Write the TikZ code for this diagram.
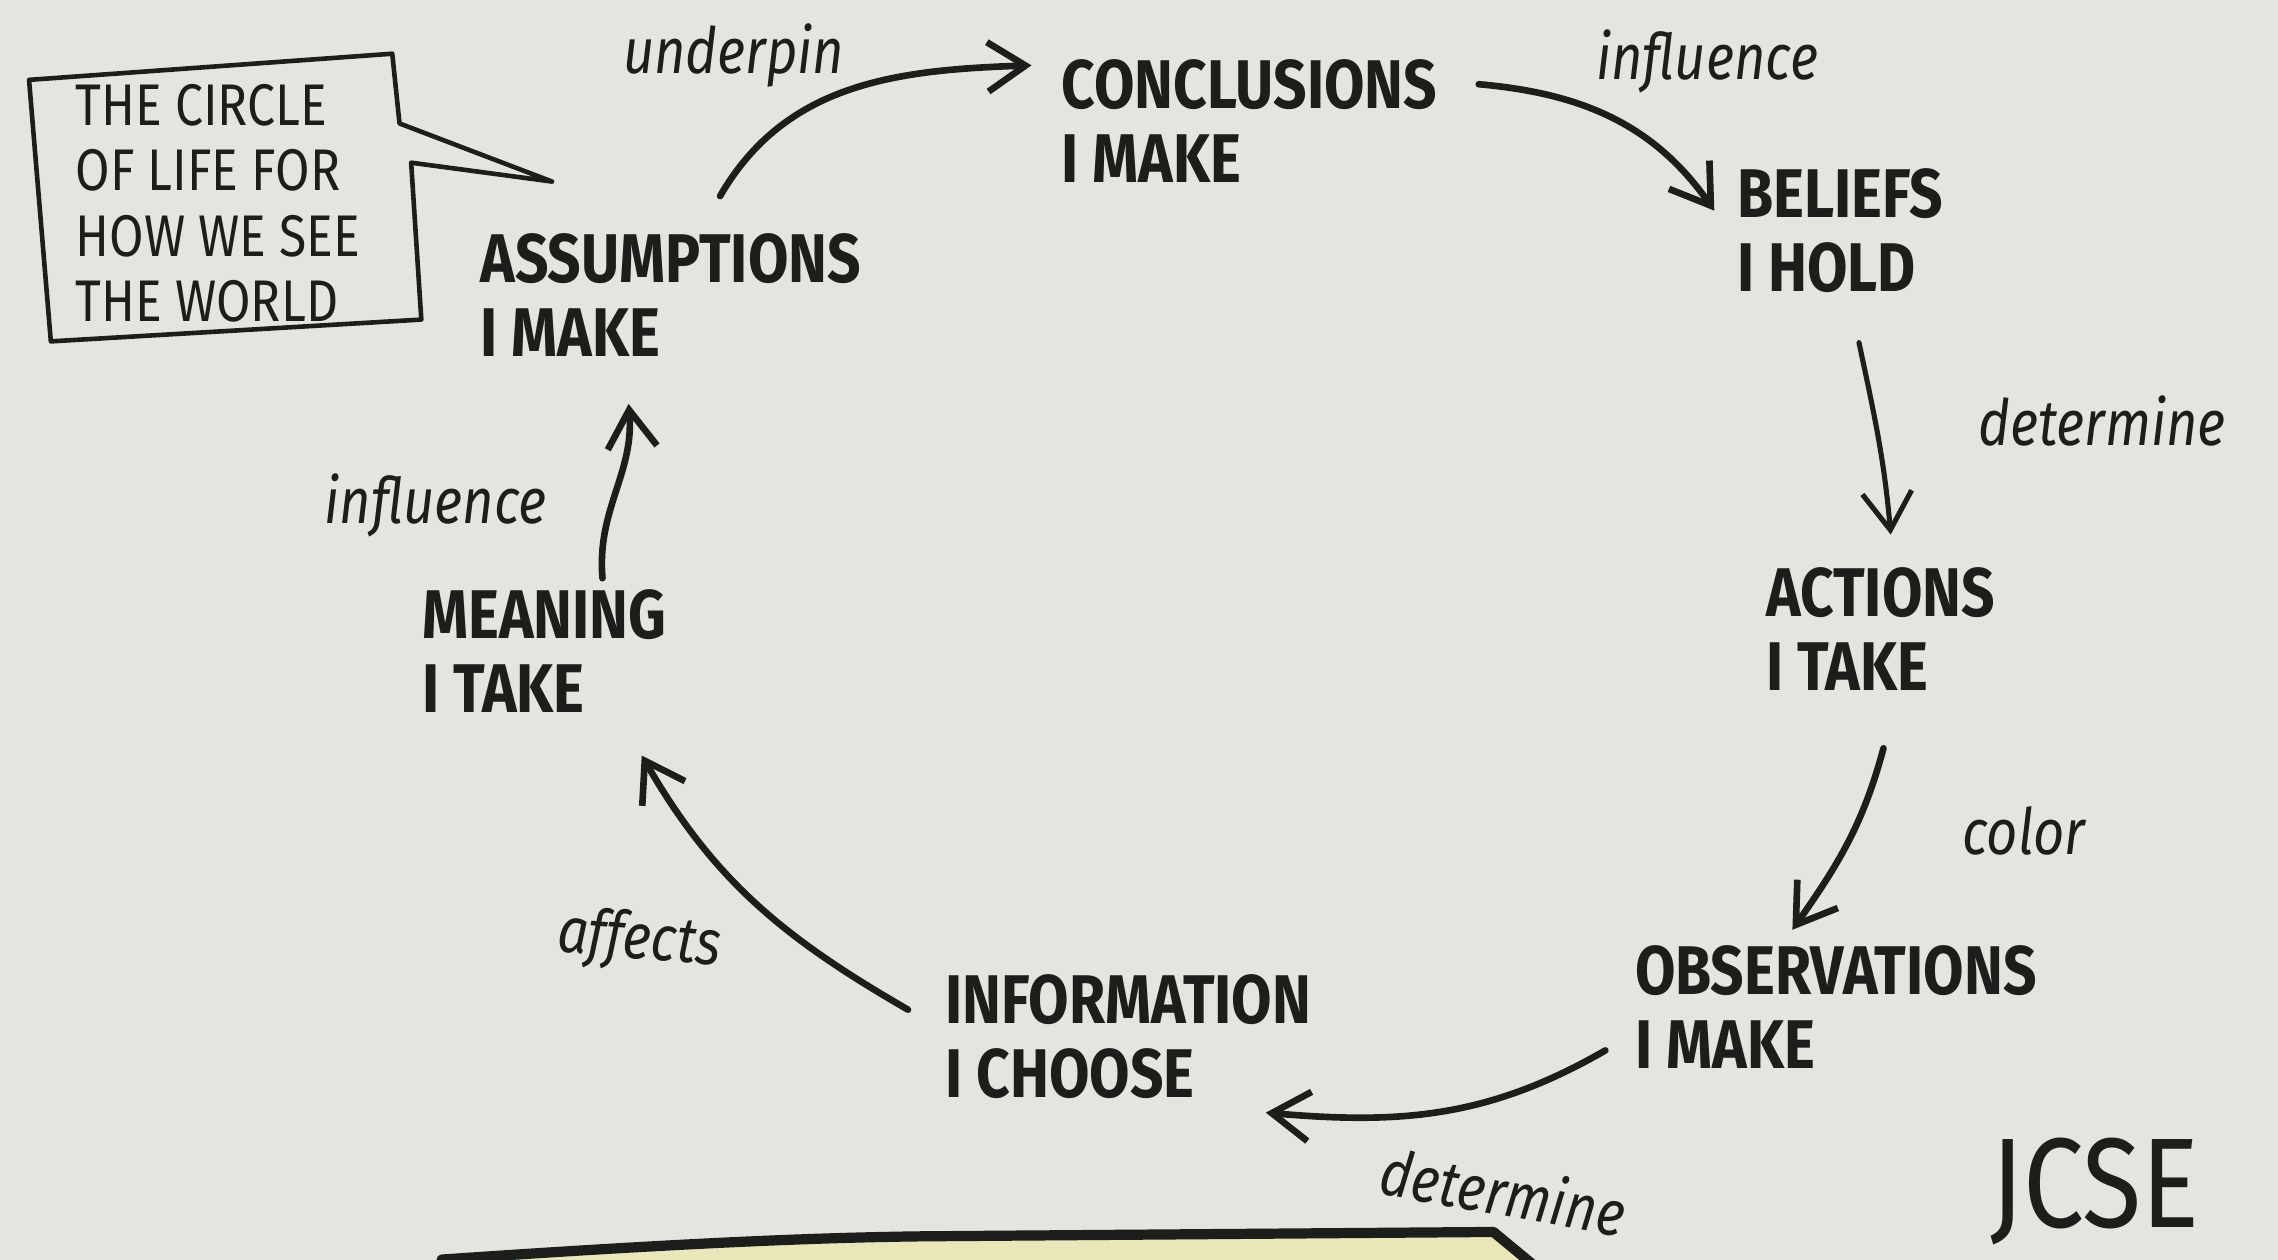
\documentclass[tikz,border=0pt]{standalone}
\usepackage{fontspec}
\setmainfont{Fira Sans}
\newfontfamily\hand[FakeStretch=0.85]{Fira Sans}
\usepackage{tikz}
\usetikzlibrary{arrows.meta}

\definecolor{paper}{RGB}{228,229,223}
\definecolor{ink}{RGB}{28,30,28}
\definecolor{pad}{RGB}{233,230,186}

\tikzset{
  stage/.style={anchor=north west, inner sep=0pt, align=left, text=ink,
    font=\hand\bfseries\fontsize{13.5}{14.5}\selectfont},
  verb/.style={inner sep=0pt, text=ink,
    font=\hand\itshape\fontsize{12.5}{14}\selectfont},
  link/.style={->, draw=ink, line width=1.3pt, line cap=round},
}

\begin{document}
\begin{tikzpicture}[>={Straight Barb[length=2.6mm,width=3.4mm]}]
        % Paper and frame
        \fill[paper] (0,0) rectangle (15.68,8.67);
        \useasboundingbox (0,0) rectangle (15.68,8.67);

        % Stages of the circle
        \node[stage] (concl) at (7.30,8.27) {CONCLUSIONS\\I MAKE};
        \node[stage] (beliefs) at (11.95,7.52) {BELIEFS\\ I HOLD};
        \node[stage] (actions) at (12.15,4.77) {ACTIONS\\ I TAKE};
        \node[stage] (observ) at (11.25,2.17) {OBSERVATIONS\\ I MAKE};
        \node[stage] (info) at (6.50,1.97) {INFORMATION\\I CHOOSE};
        \node[stage] (meaning) at (2.90,4.62) {MEANING\\ I TAKE};
        \node[stage] (assump) at (3.30,7.07) {ASSUMPTIONS\\ I MAKE};

        % Connectors between the stages
        \draw[link] ([xshift=0.34cm,yshift=0.25cm]assump.north) to[out=60,in=182] ([xshift=-0.2cm,yshift=-0.05cm]concl.north west);
        \draw[link] ([xshift=0.28cm,yshift=-0.18cm]concl.north east) to[out=-5,in=125] ([xshift=-0.15cm,yshift=-0.3cm]beliefs.north west);
        \draw[link, line width=1pt] ([xshift=0.13cm,yshift=-0.34cm]beliefs.south) to[out=-78,in=95] ([xshift=0.07cm,yshift=0.22cm]actions.north);
        \draw[link] ([xshift=0.02cm,yshift=-0.39cm]actions.south) to[out=-105,in=55] ([xshift=-0.3cm,yshift=0.1cm]observ.north);
        \draw[link] ([xshift=-0.2cm,yshift=-0.3cm]observ.west) to[out=-150,in=-5] ([xshift=-0.32cm,yshift=-0.09cm]info.south east);
        \draw[link] ([xshift=-0.25cm,yshift=-0.25cm]info.north west) to[out=150,in=-60] ([xshift=0.67cm,yshift=-0.29cm]meaning.south);
        \draw[link] ([xshift=0.4cm,yshift=0.07cm]meaning.north) to[out=95,in=-85] ([xshift=-0.29cm,yshift=-0.32cm]assump.south);

        % Verbs on the connectors
        \node[verb] (vunderpin) at (5.05,8.29) {underpin};
        \node[verb] (vinfltop) at (11.75,8.25) {influence};
        \node[verb] (vdetright) at (14.47,5.77) {determine};
        \node[verb] (vcolor) at (13.93,2.95) {color};
        \node[verb, rotate=-10] (vdetbot) at (10.35,0.47) {determine};
        \node[verb, rotate=-5] (vaffects) at (4.40,2.19) {affects};
        \node[verb] (vinflleft) at (3.00,5.19) {influence};

        % Speech bubble in the corner
        \draw[ink, line width=0.9pt, line join=round] (0.20,8.12) -- (2.70,8.30) -- (2.75,7.82) -- (3.80,7.42)
            -- (2.83,7.55) -- (2.90,6.47) -- (0.35,6.32) -- cycle;
        \node[align=left, inner sep=0pt, text=ink, font=\hand\fontsize{11.5}{12.8}\selectfont] (note) at (1.50,7.27)
            {THE CIRCLE\\OF LIFE FOR\\HOW WE SEE\\THE WORLD};

        % Initials
        \node[inner sep=0pt, text=ink, font=\hand\fontsize{25}{25}\selectfont] (sign) at (14.42,0.47) {JCSE};

        % Edge of the yellow pad at the bottom
        \filldraw[fill=pad, draw=ink, line width=2pt, line join=round] (3.04,-0.1) -- (3.04,0) .. controls (4.5,0.1) and (5.5,0.15) .. (6.35,0.16)
            -- (10.28,0.19) -- (10.63,-0.1) -- cycle;
    \end{tikzpicture}
\end{document}
